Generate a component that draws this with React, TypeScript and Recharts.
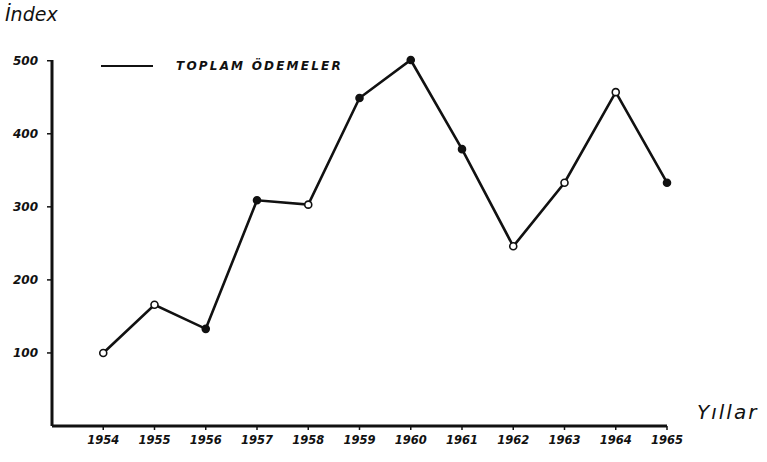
import React from 'react';
import { LineChart, Line, XAxis, YAxis, Legend } from 'recharts';

const years = [1954, 1955, 1956, 1957, 1958, 1959, 1960, 1961, 1962, 1963, 1964, 1965];
const totalPayments = [100, 166, 133, 309, 303, 449, 501, 379, 246, 333, 457, 333];
const filledMarker = [false, false, true, true, false, true, true, true, false, false, false, true];
const yTicks = [100, 200, 300, 400, 500];

const data = years.map((year, i) => ({
  year,
  value: totalPayments[i],
  filled: filledMarker[i],
}));

const font = '"DejaVu Sans", sans-serif';
const xTickStyle = { fill: '#111', fontSize: 11.5, fontStyle: 'italic', fontWeight: 700, fontFamily: font };
const yTickStyle = { fill: '#111', fontSize: 12, fontStyle: 'italic', fontWeight: 700, fontFamily: font };

const MarkerDot = (props: any) => {
  const { cx, cy, payload } = props;
  if (cx == null || cy == null) return null;
  return (
    <circle
      cx={cx}
      cy={cy}
      r={3.5}
      fill={payload.filled ? '#111' : '#fff'}
      stroke="#111"
      strokeWidth={1.6}
    />
  );
};

const LegendContent = () => (
  <div style={{ display: 'flex', alignItems: 'center', fontFamily: font }}>
    <svg width={54} height={6}>
      <line x1={0} y1={3} x2={52} y2={3} stroke="#111" strokeWidth={2} />
    </svg>
    <span
      style={{
        marginLeft: 21,
        fontSize: 12,
        fontStyle: 'italic',
        fontWeight: 700,
        letterSpacing: 2.2,
        color: '#111',
      }}
    >
      TOPLAM ÖDEMELER
    </span>
  </div>
);

export default function App() {
  return (
    <div style={{ position: 'absolute', left: 0, top: 0, width: 767, height: 462, background: '#fff' }}>
      <LineChart width={767} height={462} data={data} margin={{ top: 46, right: 100, bottom: 6, left: 0 }}>
        <XAxis
          dataKey="year"
          type="number"
          domain={[1953, 1965]}
          ticks={years}
          interval={0}
          height={30}
          tick={xTickStyle}
          tickSize={4}
          dy={4}
          axisLine={{ stroke: '#111', strokeWidth: 3 }}
          tickLine={{ stroke: '#111', strokeWidth: 1.5 }}
        />
        <YAxis
          type="number"
          domain={[0, 500]}
          ticks={yTicks}
          width={52}
          tick={yTickStyle}
          tickSize={5}
          dx={-7}
          axisLine={{ stroke: '#111', strokeWidth: 3 }}
          tickLine={{ stroke: '#111', strokeWidth: 1.5 }}
        />
        <Legend
          verticalAlign="top"
          align="left"
          wrapperStyle={{ position: 'absolute', top: 59, left: 101, width: 'auto' }}
          content={<LegendContent />}
        />
        <Line
          type="linear"
          dataKey="value"
          stroke="#111"
          strokeWidth={2.6}
          dot={<MarkerDot />}
          activeDot={false}
          isAnimationActive={false}
        />
      </LineChart>
      <div
        style={{
          position: 'absolute',
          left: 5,
          top: 3,
          fontFamily: font,
          fontStyle: 'italic',
          fontSize: 19,
          color: '#111',
        }}
      >
        İndex
      </div>
      <div
        style={{
          position: 'absolute',
          left: 697,
          top: 400,
          fontFamily: font,
          fontStyle: 'italic',
          fontSize: 20,
          letterSpacing: 2,
          color: '#111',
        }}
      >
        Yıllar
      </div>
    </div>
  );
}
